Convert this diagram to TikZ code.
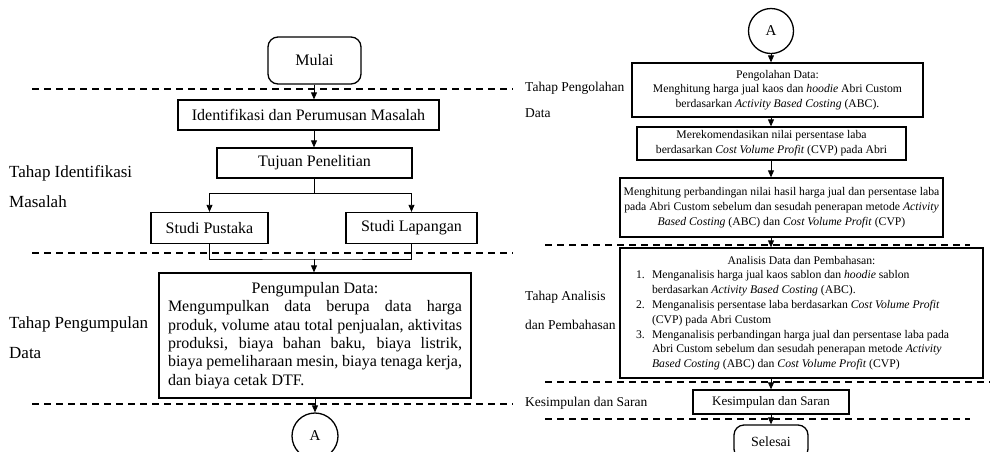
\documentclass[tikz,border=0pt]{standalone}
\usepackage{fontspec}
\setmainfont{Liberation Serif}
\usetikzlibrary{arrows.meta}
\begin{document}
\begin{tikzpicture}[x=1pt,y=-1pt,
  box/.style={draw, line width=1.3pt, inner sep=0pt, align=center},
  lbox/.style={box, font=\fontsize{16}{18.4}\selectfont},
  rbox/.style={box, font=\fontsize{11.7}{14.8}\selectfont},
  term/.style={box, rounded corners=10pt},
  conn/.style={draw, circle, line width=1.3pt, inner sep=0pt, font=\fontsize{15}{18}\selectfont},
  arr/.style={-{Triangle[length=7pt,width=6pt]}, line width=0.8pt},
  ln/.style={line width=0.8pt},
  sep/.style={dash pattern=on 7pt off 5pt, line width=1.1pt},
  llab/.style={anchor=west, inner sep=0pt, font=\fontsize{17}{30}\selectfont, align=left},
  rlab/.style={anchor=west, inner sep=0pt, font=\fontsize{13.5}{26}\selectfont, align=left},
]
\useasboundingbox (0,0) rectangle (991,451);

% ---------------- left column ----------------
\node[term, font=\fontsize{16}{18}\selectfont, minimum width=93pt, minimum height=47pt] (mulai) at (314.5,60.5) {Mulai};
\node[lbox, minimum width=261pt, minimum height=30pt] (ident) at (308.5,115) {Identifikasi dan Perumusan Masalah};
\node[lbox, minimum width=195pt, minimum height=30pt] (tujuan) at (314.5,163) {Tujuan Penelitian};
\node[lbox, minimum width=117pt, minimum height=31pt] (pustaka) at (209.5,228) {Studi Pustaka};
\node[lbox, minimum width=131pt, minimum height=31pt] (lapangan) at (411.5,228) {Studi Lapangan};
\node[lbox, align=left, minimum width=312pt, minimum height=125pt] (kumpul) at (315,335.5)
 {\makebox[294pt][c]{Pengumpulan Data:}\\
  \makebox[294pt][s]{Mengumpulkan data berupa data harga}\\
  \makebox[294pt][s]{produk, volume atau total penjualan, aktivitas}\\
  \makebox[294pt][s]{produksi, biaya bahan baku, biaya listrik,}\\
  \makebox[294pt][s]{biaya pemeliharaan mesin, biaya tenaga kerja,}\\
  dan biaya cetak DTF.};
\node[conn, minimum size=46pt] (a1) at (315,436) {A};

\coordinate (cl) at (314,0);
\coordinate (br) at (314,193);
\coordinate (mg) at (314,259);

\draw[arr] (mulai.south -| cl) -- (ident.north -| cl);
\draw[arr] (ident.south -| cl) -- (tujuan.north -| cl);
\draw[ln] (tujuan.south -| cl) -- (br);
\draw[arr] (br) -| (pustaka.north);
\draw[arr] (br) -| (lapangan.north);
\draw[ln] (pustaka.south) |- (mg) -| (lapangan.south);
\draw[arr] (mg) -- (kumpul.north -| mg);
\draw[arr] (kumpul.south -| a1) -- (a1.north);

\draw[sep] (32,89) -- (513,89);
\draw[sep] (32,253) -- (513,253);
\draw[sep] (32,404) -- (513,404);

\node[llab] (l1) at (9,187) {Tahap Identifikasi\\Masalah};
\node[llab] (l2) at (9,337.5) {Tahap Pengumpulan\\Data};

% ---------------- right column ----------------
\node[conn, minimum size=45pt] (a2) at (771,31) {A};
\node[rbox, minimum width=291pt, minimum height=54pt] (olah) at (777.5,90)
 {Pengolahan Data:\\
  Menghitung harga jual kaos dan \textit{hoodie} Abri Custom\\
  berdasarkan \textit{Activity Based Costing} (ABC).};
\node[rbox, minimum width=269pt, minimum height=33pt] (rekom) at (771.5,143.5)
 {Merekomendasikan nilai persentase laba\\
  berdasarkan \textit{Cost Volume Profit} (CVP) pada Abri};
\node[rbox, minimum width=323pt, minimum height=59pt] (banding) at (781.5,207.5)
 {Menghitung perbandingan nilai hasil harga jual dan persentase laba\\
  pada Abri Custom sebelum dan sesudah penerapan metode \textit{Activity}\\
  \textit{Based Costing} (ABC) dan \textit{Cost Volume Profit} (CVP)};
\node[rbox, align=left, minimum width=363pt, minimum height=130pt] (analisis) at (801.5,313)
 {\makebox[331pt][c]{Analisis Data dan Pembahasan:}\\
  \makebox[16pt][l]{1.}Menganalisis harga jual kaos sablon dan \textit{hoodie} sablon\\
  \hspace*{16pt}berdasarkan \textit{Activity Based Costing} (ABC).\\
  \makebox[16pt][l]{2.}Menganalisis persentase laba berdasarkan \textit{Cost Volume Profit}\\
  \hspace*{16pt}(CVP) pada Abri Custom\\
  \makebox[16pt][l]{3.}Menganalisis perbandingan harga jual dan persentase laba pada\\
  \hspace*{16pt}Abri Custom sebelum dan sesudah penerapan metode \textit{Activity}\\
  \hspace*{16pt}\textit{Based Costing} (ABC) dan \textit{Cost Volume Profit} (CVP)};
\node[box, font=\fontsize{13}{15}\selectfont, minimum width=156pt, minimum height=24pt] (simpul) at (771,402) {Kesimpulan dan Saran};
\node[term, font=\fontsize{14}{16}\selectfont, minimum width=74pt, minimum height=34pt] (selesai) at (771,442) {Selesai};

\draw[arr] (a2.south) -- (a2.south |- olah.north);
\draw[arr] (olah.south -| a2) -- (rekom.north -| a2);
\draw[arr] (rekom.south -| a2) -- (banding.north -| a2);
\draw[arr] (banding.south -| a2) -- (analisis.north -| a2);
\draw[arr] (analisis.south -| a2) -- (simpul.north -| a2);
\draw[arr] (simpul.south -| a2) -- (selesai.north -| a2);

\draw[sep] (545,245) -- (970,245);
\draw[sep] (545,382) -- (990,382);
\draw[sep] (545,419) -- (970,419);

\node[rlab] (r1) at (525,100) {Tahap Pengolahan\\Data};
\node[rlab, font=\fontsize{13.5}{29}\selectfont] (r2) at (525,310.5) {Tahap Analisis\\dan Pembahasan};
\node[rlab] (r3) at (525,403) {Kesimpulan dan Saran};
\end{tikzpicture}
\end{document}
